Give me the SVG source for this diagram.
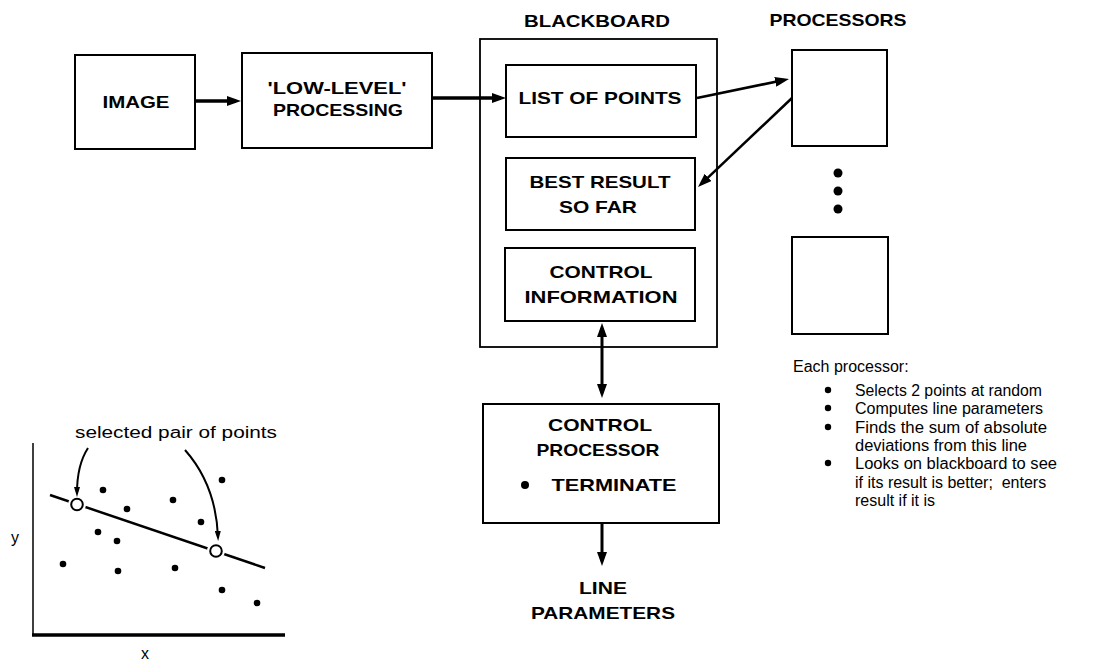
<svg xmlns="http://www.w3.org/2000/svg" width="1116" height="662" viewBox="0 0 1116 662">
<defs>
<style>
.box{fill:#fff;stroke:#000;stroke-width:2}
.cap{font-family:"Liberation Sans",Arial,sans-serif;font-weight:bold;font-size:17px;fill:#000;text-anchor:middle;dominant-baseline:central}
.txt{font-family:"Liberation Sans",Arial,sans-serif;font-size:16px;fill:#000;dominant-baseline:central}
.conn{stroke:#000;fill:none}
.dot{fill:#000}
</style>
<marker id="ah" viewBox="0 0 14 10" refX="9" refY="5" markerWidth="14" markerHeight="10" markerUnits="userSpaceOnUse" orient="auto-start-reverse">
<path d="M0,0 L14,5 L0,10 z" fill="#000"/>
</marker>
<marker id="sh" viewBox="0 0 10 6" refX="6" refY="3" markerWidth="10" markerHeight="6" markerUnits="userSpaceOnUse" orient="auto">
<path d="M0,0 L10,3 L0,6 z" fill="#000"/>
</marker>
</defs>
<rect width="1116" height="662" fill="#fff"/>

<g id="blackboard">
<rect x="480" y="39" width="237" height="308" fill="#fff" stroke="#000" stroke-width="1.8"/>
<text class="cap" x="597" y="21" textLength="146" lengthAdjust="spacingAndGlyphs">BLACKBOARD</text>
</g>

<g id="image">
<rect class="box" x="75" y="55" width="120" height="94"/>
<text class="cap" x="136" y="102" textLength="67" lengthAdjust="spacingAndGlyphs">IMAGE</text>
</g>

<g id="low-level">
<rect class="box" x="242" y="53" width="190" height="95"/>
<text class="cap" x="337" y="88" textLength="139" lengthAdjust="spacingAndGlyphs">'LOW-LEVEL'</text>
<text class="cap" x="338" y="110" textLength="130" lengthAdjust="spacingAndGlyphs">PROCESSING</text>
</g>

<g id="list-of-points">
<rect class="box" x="506" y="65" width="190" height="72"/>
<text class="cap" x="600" y="98" textLength="163" lengthAdjust="spacingAndGlyphs">LIST OF POINTS</text>
</g>

<g id="best-result">
<rect class="box" x="506" y="158" width="189" height="72"/>
<text class="cap" x="600" y="182" textLength="141" lengthAdjust="spacingAndGlyphs">BEST RESULT</text>
<text class="cap" x="598" y="207" textLength="78" lengthAdjust="spacingAndGlyphs">SO FAR</text>
</g>

<g id="control-information">
<rect class="box" x="505" y="248" width="190" height="73"/>
<text class="cap" x="601" y="272" textLength="103" lengthAdjust="spacingAndGlyphs">CONTROL</text>
<text class="cap" x="601" y="297" textLength="153" lengthAdjust="spacingAndGlyphs">INFORMATION</text>
</g>

<g id="processors">
<text class="cap" x="838" y="20" textLength="137" lengthAdjust="spacingAndGlyphs">PROCESSORS</text>
<rect class="box" x="792" y="50" width="95" height="96"/>
<circle class="dot" cx="838" cy="173" r="4.5"/>
<circle class="dot" cx="838" cy="191" r="4.5"/>
<circle class="dot" cx="838" cy="209" r="4.5"/>
<rect class="box" x="792" y="237" width="96" height="97"/>
</g>

<g id="control-processor">
<rect class="box" x="483" y="404" width="236" height="119"/>
<text class="cap" x="600" y="425" textLength="104" lengthAdjust="spacingAndGlyphs">CONTROL</text>
<text class="cap" x="598" y="450" textLength="123" lengthAdjust="spacingAndGlyphs">PROCESSOR</text>
<circle class="dot" cx="525" cy="485" r="4"/>
<text class="cap" x="614" y="485" textLength="125" lengthAdjust="spacingAndGlyphs">TERMINATE</text>
</g>

<g id="line-parameters">
<text class="cap" x="603" y="588" textLength="48" lengthAdjust="spacingAndGlyphs">LINE</text>
<text class="cap" x="603" y="613" textLength="144" lengthAdjust="spacingAndGlyphs">PARAMETERS</text>
</g>

<g id="processor-notes">
<text class="txt" x="793" y="366" font-size="15">Each processor:</text>
<circle class="dot" cx="828" cy="390" r="3.2"/>
<text class="txt" x="855" y="390" textLength="187" lengthAdjust="spacingAndGlyphs">Selects 2 points at random</text>
<circle class="dot" cx="828" cy="408" r="3.2"/>
<text class="txt" x="855" y="408" textLength="188" lengthAdjust="spacingAndGlyphs">Computes line parameters</text>
<circle class="dot" cx="828" cy="427" r="3.2"/>
<text class="txt" x="855" y="427" textLength="192" lengthAdjust="spacingAndGlyphs">Finds the sum of absolute</text>
<text class="txt" x="855" y="445" textLength="172" lengthAdjust="spacingAndGlyphs">deviations from this line</text>
<circle class="dot" cx="828" cy="463" r="3.2"/>
<text class="txt" x="855" y="463" textLength="202" lengthAdjust="spacingAndGlyphs">Looks on blackboard to see</text>
<text class="txt" x="855" y="482" xml:space="preserve">if its result is better;  enters</text>
<text class="txt" x="855" y="500">result if it is</text>
</g>

<g id="connectors">
<line class="conn" stroke-width="3.5" x1="195" y1="101" x2="236" y2="101" marker-end="url(#ah)"/>
<line class="conn" stroke-width="3.5" x1="433" y1="98" x2="501" y2="98" marker-end="url(#ah)"/>
<line class="conn" stroke-width="2.8" x1="697" y1="98" x2="784.1" y2="80" marker-end="url(#ah)"/>
<line class="conn" stroke-width="2.5" x1="792" y1="98" x2="701.6" y2="183.6" marker-end="url(#ah)"/>
<line class="conn" stroke-width="3" x1="602" y1="328" x2="602" y2="393" marker-start="url(#ah)" marker-end="url(#ah)"/>
<line class="conn" stroke-width="3" x1="602" y1="523" x2="602" y2="561" marker-end="url(#ah)"/>
</g>

<g id="scatter-plot">
<line x1="33" y1="443" x2="33" y2="636" stroke="#000" stroke-width="1.5"/>
<line x1="32" y1="635" x2="285" y2="635" stroke="#000" stroke-width="3.5"/>
<text class="txt" x="145" y="653" text-anchor="middle">x</text>
<text class="txt" x="15" y="537" text-anchor="middle">y</text>
<text class="txt" x="176" y="432" text-anchor="middle" textLength="202" lengthAdjust="spacingAndGlyphs">selected pair of points</text>
<line x1="50" y1="495" x2="265" y2="568" stroke="#000" stroke-width="2.5"/>
<circle cx="77" cy="504.5" r="9" fill="#fff"/>
<circle cx="216" cy="551" r="9" fill="#fff"/>
<circle cx="77" cy="504.5" r="5.8" fill="#fff" stroke="#000" stroke-width="2"/>
<circle cx="216" cy="551" r="5.8" fill="#fff" stroke="#000" stroke-width="2"/>
<path class="conn" stroke-width="2" d="M88,448 Q77,465 77,493" marker-end="url(#sh)"/>
<path class="conn" stroke-width="2" d="M185,450 Q216,485 218,537" marker-end="url(#sh)"/>
<circle class="dot" cx="103" cy="490" r="3.3"/>
<circle class="dot" cx="127" cy="509" r="3.3"/>
<circle class="dot" cx="173" cy="500" r="3.3"/>
<circle class="dot" cx="222" cy="480" r="3.3"/>
<circle class="dot" cx="201" cy="522" r="3.3"/>
<circle class="dot" cx="98" cy="532" r="3.3"/>
<circle class="dot" cx="117" cy="541" r="3.3"/>
<circle class="dot" cx="63" cy="564" r="3.3"/>
<circle class="dot" cx="118" cy="571" r="3.3"/>
<circle class="dot" cx="175" cy="568" r="3.3"/>
<circle class="dot" cx="222" cy="590" r="3.3"/>
<circle class="dot" cx="257" cy="603" r="3.3"/>
</g>
</svg>
